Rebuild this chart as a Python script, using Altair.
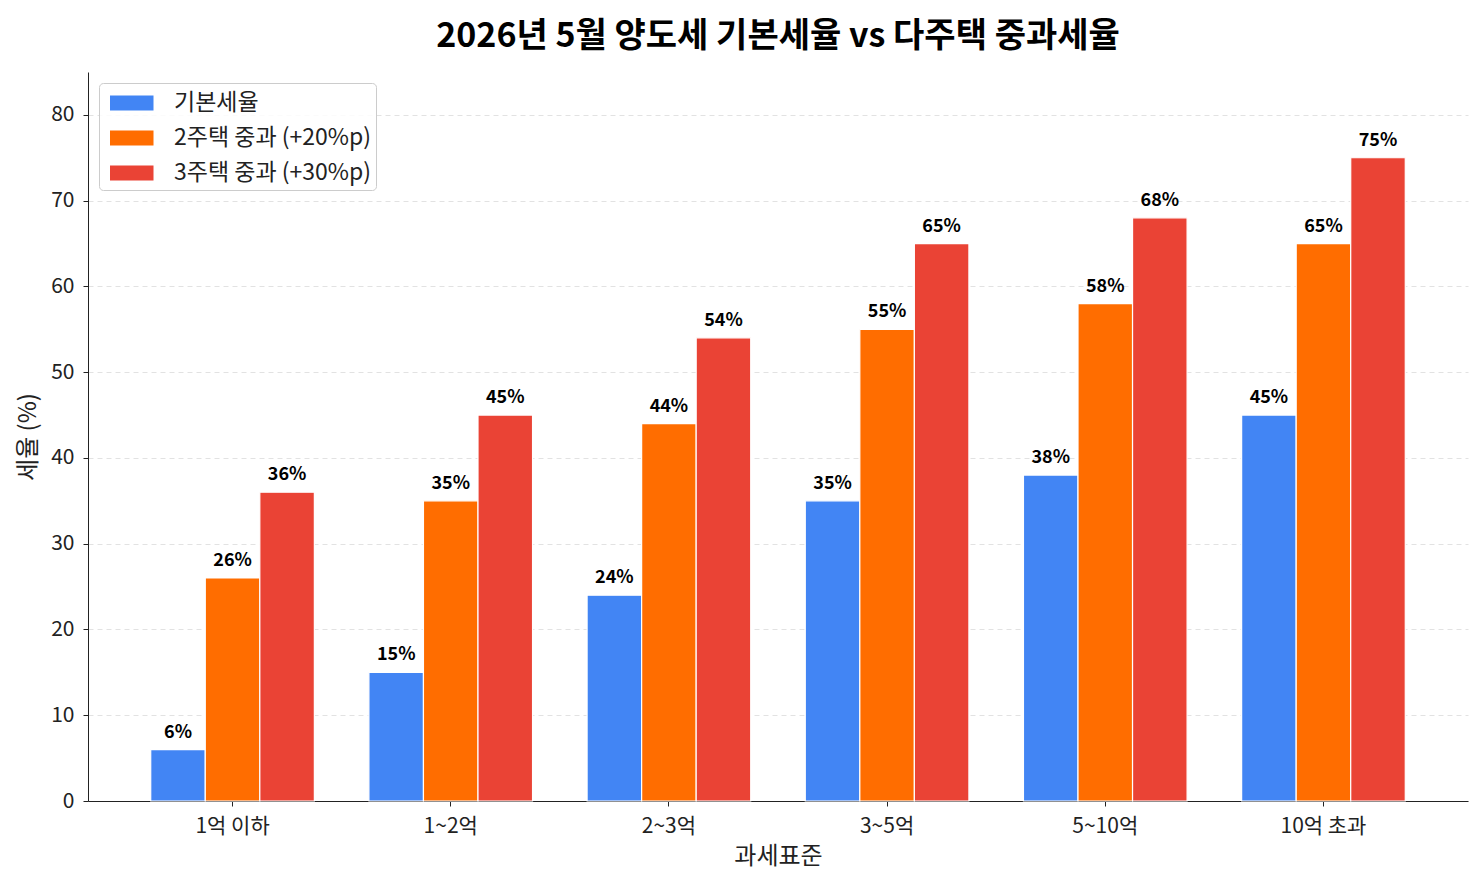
import altair as alt
import pandas as pd

categories = ["1억 이하", "1~2억", "2~3억", "3~5억", "5~10억", "10억 초과"]
series_names = ["기본세율", "2주택 중과 (+20%p)", "3주택 중과 (+30%p)"]
basic = [6, 15, 24, 35, 38, 45]
two_house = [26, 35, 44, 55, 58, 65]
three_house = [36, 45, 54, 65, 68, 75]
colors = ["#4285F4", "#FF6D00", "#EA4335"]

rows = []
for s, vals in zip(series_names, [basic, two_house, three_house]):
    for c, v in zip(categories, vals):
        rows.append({"cat": c, "series": s, "value": v, "label": f"{v}%"})
df = pd.DataFrame(rows)

FONT = "Noto Sans CJK KR"

x = alt.X("cat:N", sort=categories, title="과세표준",
          scale=alt.Scale(paddingInner=0.25, paddingOuter=0.2875),
          axis=alt.Axis(labelAngle=0, labelFontSize=21, titleFontSize=24,
                        labelColor="#222", titleColor="#222", tickColor="#222",
                        domainColor="#222", tickSize=5, labelPadding=9, titlePadding=8,
                        labelFont=FONT, titleFont=FONT, titleFontWeight="normal"))
xo = alt.XOffset("series:N", sort=series_names, scale=alt.Scale(paddingInner=0, paddingOuter=0))
y = alt.Y("value:Q", title="세율 (%)",
          scale=alt.Scale(domain=[0, 85], nice=False),
          axis=alt.Axis(values=list(range(0, 81, 10)), labelFontSize=21, titleFontSize=24,
                        labelColor="#222", titleColor="#222", tickColor="#222",
                        domainColor="#222", tickSize=5, labelPadding=9, titlePadding=10,
                        gridDash=[5, 4], gridColor="#e2e2e2", labelFont=FONT, titleFont=FONT,
                        titleFontWeight="normal"))
color = alt.Color("series:N", sort=series_names, title=None,
                  scale=alt.Scale(domain=series_names, range=colors),
                  legend=alt.Legend(orient="none", legendX=11, legendY=11,
                                    symbolType="M-0.6,-0.5H2.3V0.5H-0.6Z", symbolSize=900,
                                    symbolStrokeWidth=0, labelLimit=500,
                                    labelFontSize=23, labelFont=FONT, labelColor="#222",
                                    rowPadding=8, symbolOffset=0, labelOffset=40,
                                    padding=5, strokeColor="#ccc", cornerRadius=4,
                                    fillColor="rgba(255,255,255,0.85)"))

bars = alt.Chart(df).mark_bar(stroke="white", strokeWidth=1.2).encode(
    x=x, xOffset=xo, y=y, color=color)

text = alt.Chart(df).mark_text(dy=-12, fontSize=18, fontWeight="bold", font=FONT,
                               color="black", baseline="alphabetic").encode(
    x=alt.X("cat:N", sort=categories), xOffset=xo, y="value:Q", text="label:N")

chart = alt.layer(bars, text).properties(
    width=1380, height=729,
    padding={"left": 8, "top": 12, "right": 5, "bottom": 2},
    title=alt.TitleParams("2026년 5월 양도세 기본세율 vs 다주택 중과세율",
                          fontSize=34, fontWeight="bold", font=FONT, color="black",
                          anchor="middle", offset=18)
).configure_view(stroke=None).configure_axis(grid=False).configure_axisY(grid=True)

chart.save("out.html", embed_options={"renderer": "svg", "actions": False})
